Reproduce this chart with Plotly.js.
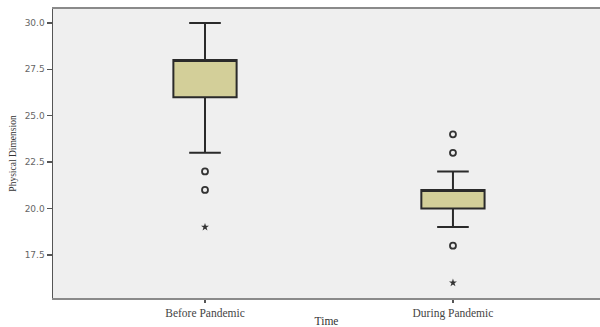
<!DOCTYPE html>
<html>
<head>
<meta charset="utf-8">
<script src="https://cdn.plot.ly/plotly-3.0.1.min.js"></script>
<style>html,body{margin:0;padding:0;background:#fff;}#chart{width:600px;height:327px;}</style>
</head>
<body>
<div id="chart"></div>
<script>
const categories = ["Before Pandemic", "During Pandemic"];
const q1Values = [26, 20];
const medianValues = [28, 21];
const q3Values = [28, 21];
const lowerWhisker = [23, 19];
const upperWhisker = [30, 22];
const circleOutlierCats = ["Before Pandemic", "Before Pandemic", "During Pandemic", "During Pandemic", "During Pandemic"];
const circleOutlierVals = [22, 21, 24, 23, 18];
const starOutlierCats = ["Before Pandemic", "During Pandemic"];
const starOutlierVals = [19, 16];
const tickVals = [17.5, 20.0, 22.5, 25.0, 27.5, 30.0];
const tickText = ["17.5", "20.0", "22.5", "25.0", "27.5", "30.0"];

const traces = [
  {
    type: "box",
    x: categories,
    q1: q1Values,
    median: medianValues,
    q3: q3Values,
    lowerfence: lowerWhisker,
    upperfence: upperWhisker,
    width: 0.255,
    whiskerwidth: 0.5,
    fillcolor: "#d3cf99",
    line: {color: "#2a2a2a", width: 2},
    hoverinfo: "skip",
    showlegend: false
  },
  {
    type: "scatter",
    mode: "markers",
    x: circleOutlierCats,
    y: circleOutlierVals,
    marker: {symbol: "circle-open", size: 6, color: "#333", line: {width: 1.8, color: "#333"}},
    showlegend: false,
    hoverinfo: "skip"
  },
  {
    type: "scatter",
    mode: "markers",
    x: starOutlierCats,
    y: starOutlierVals,
    marker: {symbol: "star", size: 6, color: "#333"},
    showlegend: false,
    hoverinfo: "skip"
  }
];

const layout = {
  width: 600,
  height: 327,
  margin: {l: 53, r: 0, t: 9, b: 29},
  paper_bgcolor: "#ffffff",
  plot_bgcolor: "#efefef",
  showlegend: false,
  xaxis: {
    type: "category",
    categoryorder: "array",
    categoryarray: categories,
    range: [-0.613, 1.593],
    showgrid: false,
    zeroline: false,
    showline: true,
    linecolor: "#8a8a8a",
    linewidth: 2,
    mirror: true,
    ticks: "outside",
    ticklen: 3,
    tickwidth: 1.5,
    tickcolor: "#555",
    tickfont: {family: "Liberation Serif, Times New Roman, serif", size: 11.5, color: "#444"},
    title: {text: "Time", font: {family: "Liberation Serif, Times New Roman, serif", size: 11.5, color: "#333"}, standoff: 2}
  },
  yaxis: {
    range: [15.18, 30.75],
    tickvals: tickVals,
    ticktext: tickText,
    showgrid: false,
    zeroline: false,
    showline: true,
    linecolor: "#555",
    linewidth: 1.5,
    ticks: "outside",
    ticklen: 5,
    tickwidth: 1.5,
    tickcolor: "#555",
    tickfont: {family: "DejaVu Sans, Verdana, sans-serif", size: 9, color: "#666"},
    title: {text: "Physical Dimension", font: {family: "Liberation Serif, Times New Roman, serif", size: 9.5, color: "#333"}, standoff: 6}
  }
};

Plotly.newPlot("chart", traces, layout, {displayModeBar: false, staticPlot: true});
</script>
</body>
</html>
